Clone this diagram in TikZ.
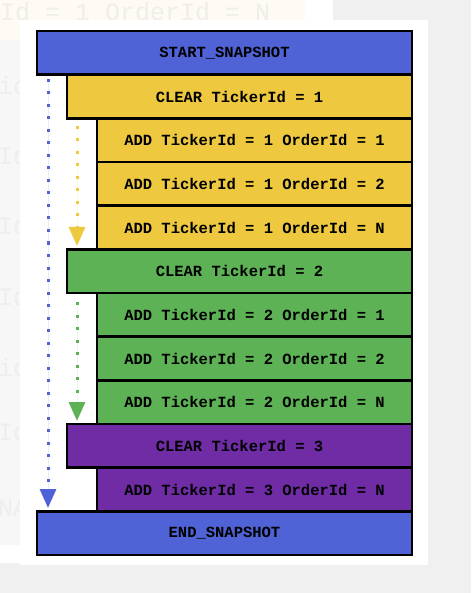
\documentclass[tikz,border=0pt]{standalone}
\usepackage{fontspec}
\usepackage{tikz}
\usetikzlibrary{arrows.meta,positioning}
\newfontfamily\snapmono{Liberation Mono}
\definecolor{snapblue}{RGB}{79,99,214}
\definecolor{snapyellow}{RGB}{238,201,64}
\definecolor{snapgreen}{RGB}{93,178,85}
\definecolor{snappurple}{RGB}{111,44,165}
\definecolor{snapbg}{RGB}{240,240,240}
\definecolor{snapcream}{RGB}{253,251,243}
\definecolor{snapstrip}{RGB}{247,247,248}
\definecolor{snapghost}{RGB}{240,238,232}
\definecolor{snapghostside}{RGB}{238,238,240}
\tikzset{
  snaprow/.style={draw=black, line width=2.6pt, outer sep=0pt, inner sep=0pt, minimum height=43.67pt, anchor=north east, font=\snapmono\bfseries\fontsize{15.5}{18}\selectfont},
  snapstart/.style={snaprow, fill=snapblue, minimum width=375pt},
  snapclear/.style={snaprow, minimum width=345pt},
  snapadd/.style={snaprow, minimum width=315pt},
  snapflow/.style={dash pattern=on 3pt off 9.5pt, line width=3pt, -{Triangle[length=19pt, width=16pt]}},
  snapghosttxt/.style={text=snapghost, inner sep=0pt, font=\snapmono\fontsize{25}{28}\selectfont}
}
\begin{document}
\begin{tikzpicture}[x=1pt, y=-1pt]
  \useasboundingbox (0,0) rectangle (471,593);
  % screenshot background
  \fill[snapbg] (0,0) rectangle (471,593);
  \fill[white] (0,0) rectangle (333,20);
  \fill[snapstrip] (0,40) rectangle (20,545);
  \fill[white] (0,545) rectangle (20,563);
  \fill[snapcream] (0,0) rectangle (305,40);
  \node[snapghosttxt, anchor=base west] (ghost) at (0,21) {Id = 1 OrderId = N};
  \begin{scope}[snapghosttxt/.append style={text=snapghostside}]
    \clip (0,40) rectangle (20,545);
    \node[snapghosttxt, anchor=base west] (g1) at (-2,95) {ic};
    \node[snapghosttxt, anchor=base west] (g2) at (-2,165) {Id};
    \node[snapghosttxt, anchor=base west] (g3) at (-2,235) {Id};
    \node[snapghosttxt, anchor=base west] (g4) at (-2,305) {Id};
    \node[snapghosttxt, anchor=base west] (g5) at (-2,376) {ic};
    \node[snapghosttxt, anchor=base west] (g6) at (-2,440) {Id};
    \node[snapghosttxt, anchor=base west] (g7) at (-2,516) {NA};
  \end{scope}
  \fill[white] (20,20) rectangle (428,565);

  % snapshot rows
  \node[snapstart] (start) at (412,31) {START\_SNAPSHOT};
  \node[snapclear, fill=snapyellow] (clr1) at (start.south east) {CLEAR TickerId = 1};
  \node[snapadd, fill=snapyellow] (add11) at (clr1.south east) {ADD TickerId = 1 OrderId = 1};
  \node[snapadd, fill=snapyellow] (add12) at (add11.south east) {ADD TickerId = 1 OrderId = 2};
  \node[snapadd, fill=snapyellow] (add1n) at (add12.south east) {ADD TickerId = 1 OrderId = N};
  \node[snapclear, fill=snapgreen] (clr2) at (add1n.south east) {CLEAR TickerId = 2};
  \node[snapadd, fill=snapgreen] (add21) at (clr2.south east) {ADD TickerId = 2 OrderId = 1};
  \node[snapadd, fill=snapgreen] (add22) at (add21.south east) {ADD TickerId = 2 OrderId = 2};
  \node[snapadd, fill=snapgreen] (add2n) at (add22.south east) {ADD TickerId = 2 OrderId = N};
  \node[snapclear, fill=snappurple] (clr3) at (add2n.south east) {CLEAR TickerId = 3};
  \node[snapadd, fill=snappurple] (add3n) at (clr3.south east) {ADD TickerId = 3 OrderId = N};
  \node[snapstart] (stop) at (add3n.south east) {END\_SNAPSHOT};

  % flow markers
  \coordinate (btop) at (48,79);
  \coordinate (bend) at (48,508);
  \coordinate (ytop) at (77,126);
  \coordinate (yend) at (77,246);
  \coordinate (gtop) at (77,302);
  \coordinate (gend) at (77,421);
  \draw[snapflow, draw=snapblue, fill=snapblue] (btop) -- (bend);
  \draw[snapflow, draw=snapyellow, fill=snapyellow] (ytop) -- (yend);
  \draw[snapflow, draw=snapgreen, fill=snapgreen] (gtop) -- (gend);
\end{tikzpicture}
\end{document}
